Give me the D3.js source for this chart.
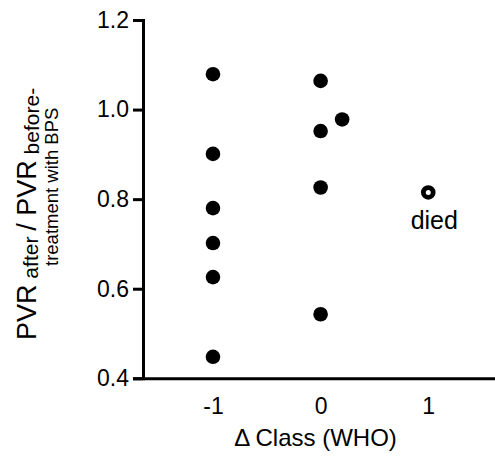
<!DOCTYPE html>
<html>
<head>
<meta charset="utf-8">
<script src="https://cdn.jsdelivr.net/npm/d3@7"></script>
<style>
  html, body { margin: 0; padding: 0; background: #fff; }
  svg { display: block; font-family: "Liberation Sans", Arial, Helvetica, sans-serif; }
</style>
</head>
<body>
<svg id="chart" width="495" height="457"></svg>
<script>
// Data
const survivorX = [-1, -1, -1, -1, -1, -1, 0, 0, 0, 0, 0.2];
const survivorY = [1.079, 0.901, 0.780, 0.702, 0.626, 0.448, 1.064, 0.952, 0.826, 0.543, 0.978];
const diedX = [1];
const diedY = [0.815];
const diedLabel = "died";
const xTicks = [-1, 0, 1];
const yTicks = [0.4, 0.6, 0.8, 1.0, 1.2];
const xTitle = "\u0394 Class (WHO)";

const svg = d3.select("#chart");
const x = d3.scaleLinear().domain([-1.65, 1.62]).range([143, 495]);
const y = d3.scaleLinear().domain([0.4, 1.2]).range([378.3, 20]);

// Y axis
const yAxis = d3.axisLeft(y).tickValues(yTicks).tickFormat(d3.format(".1f")).tickSize(10).tickPadding(4);
const gy = svg.append("g").attr("transform", `translate(${x.range()[0]},0)`).call(yAxis);
gy.select(".domain").attr("stroke", "#000").attr("stroke-width", 3);
gy.selectAll(".tick line").attr("stroke", "#000").attr("stroke-width", 3);
gy.selectAll(".tick text").attr("font-size", 23).attr("fill", "#000")
  .attr("font-family", "'Liberation Sans', Arial, sans-serif");

// X axis
const xAxis = d3.axisBottom(x).tickValues(xTicks).tickFormat(d => String(d)).tickSize(0).tickPadding(19);
const gx = svg.append("g").attr("transform", `translate(0,${y.range()[0]})`).call(xAxis);
gx.select(".domain").attr("stroke", "#000").attr("stroke-width", 3);
gx.selectAll(".tick text").attr("font-size", 23).attr("fill", "#000")
  .attr("font-family", "'Liberation Sans', Arial, sans-serif");

// X title
svg.append("text").attr("x", 315.5).attr("y", 446).attr("text-anchor", "middle")
  .attr("font-size", 24).attr("fill", "#000").text(xTitle);

// Y title (rotated, two lines)
const yt1 = svg.append("text").attr("transform", "translate(36,340) rotate(-90)")
  .attr("text-anchor", "start").attr("fill", "#000");
yt1.append("tspan").attr("font-size", 27).text("PVR");
yt1.append("tspan").attr("font-size", 21).attr("dy", 2).text(" after ");
yt1.append("tspan").attr("font-size", 27).attr("dy", -2).text("/ PVR");
yt1.append("tspan").attr("font-size", 21).attr("dy", 3).text(" before-");
svg.append("text").attr("transform", "translate(58,266) rotate(-90)")
  .attr("text-anchor", "start").attr("font-size", 18.5).attr("fill", "#000").text("treatment with BPS");

// Points
const pts = survivorX.map((d, i) => ({x: d, y: survivorY[i]}));
svg.append("g").selectAll("circle").data(pts).join("circle")
  .attr("cx", d => x(d.x)).attr("cy", d => y(d.y)).attr("r", 7.3).attr("fill", "#000");

const dpts = diedX.map((d, i) => ({x: d, y: diedY[i]}));
svg.append("g").selectAll("circle").data(dpts).join("circle")
  .attr("cx", d => x(d.x)).attr("cy", d => y(d.y)).attr("r", 4.9)
  .attr("fill", "#fff").attr("stroke", "#000").attr("stroke-width", 4.8);

svg.append("g").selectAll("text").data(dpts).join("text")
  .attr("x", d => x(d.x) + 6).attr("y", d => y(d.y) + 37)
  .attr("text-anchor", "middle").attr("font-size", 25).attr("fill", "#000").text(diedLabel);
</script>
</body>
</html>
